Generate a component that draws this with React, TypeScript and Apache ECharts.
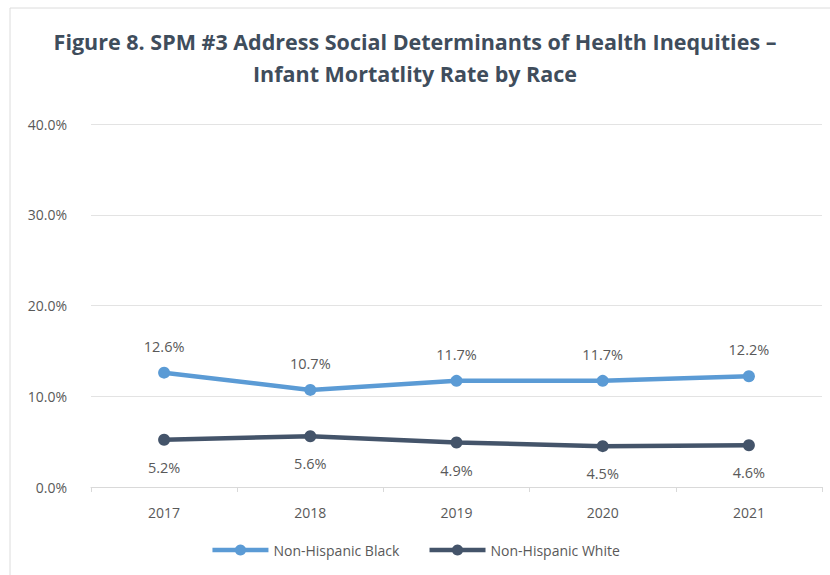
import React, { useEffect, useRef } from "react";
import * as echarts from "echarts";

const titleLines = [
  "Figure 8. SPM #3 Address Social Determinants of Health Inequities \u2013",
  "Infant Mortatlity Rate by Race",
];
const years = ["2017", "2018", "2019", "2020", "2021"];
const blackRates = [12.6, 10.7, 11.7, 11.7, 12.2];
const whiteRates = [5.2, 5.6, 4.9, 4.5, 4.6];
const seriesNames = ["Non-Hispanic Black", "Non-Hispanic White"];

const FONT = "'Open Sans', 'Noto Sans', sans-serif";

export default function App() {
  const ref = useRef<HTMLDivElement>(null);
  useEffect(() => {
    document.body.style.margin = "0";
    const chart = echarts.init(ref.current!, null, { renderer: "svg" });
    chart.setOption({
      animation: false,
      backgroundColor: "#ffffff",
      textStyle: { fontFamily: FONT },
      graphic: [
        {
          type: "rect",
          shape: { x: 10, y: 8, width: 900, height: 700 },
          style: { fill: "none", stroke: "#dcdcdc", lineWidth: 1 },
          silent: true,
        },
      ],
      title: {
        text: titleLines.join("\n"),
        left: "center",
        top: 20,
        textStyle: {
          fontFamily: FONT,
          fontSize: 21.5,
          fontWeight: "bold",
          color: "#3f4d5c",
          lineHeight: 32,
        },
      },
      legend: {
        bottom: 13,
        left: "center",
        itemWidth: 56,
        itemHeight: 14,
        itemGap: 28,
        lineStyle: { width: 4.5 },
        textStyle: { color: "#595959", fontSize: 14, fontFamily: FONT },
        data: seriesNames,
      },
      grid: { left: 91, right: 8, top: 124, bottom: 88 },
      xAxis: {
        type: "category",
        data: years,
        boundaryGap: true,
        axisLine: { lineStyle: { color: "#d9d9d9" } },
        axisTick: { show: true, length: 5, lineStyle: { color: "#d9d9d9" } },
        axisLabel: { color: "#595959", fontSize: 14, margin: 18, fontFamily: FONT },
      },
      yAxis: {
        type: "value",
        min: 0,
        max: 40,
        interval: 10,
        axisLine: { show: false },
        axisTick: { show: false },
        axisLabel: {
          color: "#595959",
          fontSize: 14,
          margin: 24,
          fontFamily: FONT,
          formatter: (v: number) => v.toFixed(1) + "%",
        },
        splitLine: { lineStyle: { color: "#e3e3e3" } },
      },
      series: [
        {
          name: seriesNames[0],
          type: "line",
          data: blackRates,
          color: "#5b9bd5",
          lineStyle: { width: 4.5, color: "#5b9bd5" },
          symbol: "circle",
          symbolSize: 12,
          itemStyle: { color: "#5b9bd5" },
          label: {
            show: true,
            position: "top",
            distance: 13,
            color: "#595959",
            fontSize: 14.5,
            fontFamily: FONT,
            formatter: (p: any) => p.value.toFixed(1) + "%",
          },
        },
        {
          name: seriesNames[1],
          type: "line",
          data: whiteRates,
          color: "#44546a",
          lineStyle: { width: 4.5, color: "#44546a" },
          symbol: "circle",
          symbolSize: 12,
          itemStyle: { color: "#44546a" },
          label: {
            show: true,
            position: "bottom",
            distance: 14,
            color: "#595959",
            fontSize: 14.5,
            fontFamily: FONT,
            formatter: (p: any) => p.value.toFixed(1) + "%",
          },
        },
      ],
    });
    return () => chart.dispose();
  }, []);
  return <div ref={ref} style={{ width: 830, height: 575 }} />;
}
